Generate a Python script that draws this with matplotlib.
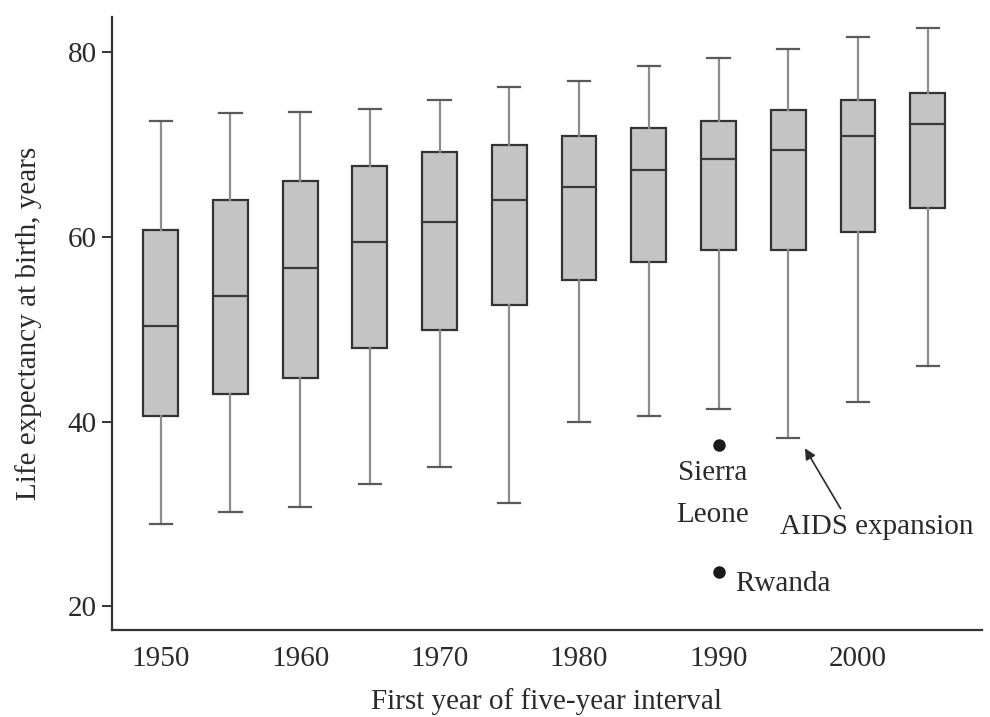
import numpy as np
import matplotlib
matplotlib.use('Agg')
from matplotlib import pyplot as plt

# five-year intervals and box statistics
years = [1950, 1955, 1960, 1965, 1970, 1975, 1980, 1985, 1990, 1995, 2000, 2005]
whislo = [28.9, 30.2, 30.8, 33.2, 35.1, 31.2, 40.0, 40.6, 41.4, 38.2, 42.1, 46.0]
q1 = [40.6, 43.0, 44.7, 48.0, 49.9, 52.6, 55.3, 57.3, 58.6, 58.6, 60.5, 63.1]
med = [50.4, 53.6, 56.6, 59.4, 61.6, 64.0, 65.4, 67.2, 68.4, 69.4, 70.9, 72.2]
q3 = [60.7, 64.0, 66.1, 67.7, 69.2, 70.0, 70.9, 71.8, 72.6, 73.7, 74.8, 75.6]
whishi = [72.6, 73.4, 73.5, 73.9, 74.8, 76.2, 76.9, 78.5, 79.4, 80.4, 81.7, 82.6]
outlier_year = 1990
outliers = {'Sierra Leone': 37.5, 'Rwanda': 23.7}

plt.rcParams['font.family'] = ['Liberation Serif', 'DejaVu Serif']
text_col = '#2a2a2a'

stats = []
for i in range(len(years)):
    stats.append({'whislo': whislo[i], 'q1': q1[i], 'med': med[i],
                  'q3': q3[i], 'whishi': whishi[i],
                  'fliers': list(outliers.values()) if years[i] == outlier_year else []})

fig = plt.figure(figsize=(9.9, 7.17), dpi=100)
ax = fig.add_axes([0.113, 0.121, 0.879, 0.855])

ax.bxp(stats, positions=years, widths=2.5, patch_artist=True,
       boxprops=dict(facecolor='#c4c4c4', edgecolor='#333333', linewidth=1.6),
       medianprops=dict(color='#3a3a3a', linewidth=1.6),
       whiskerprops=dict(color='#8c8c8c', linewidth=1.6),
       capprops=dict(color='#5a5a5a', linewidth=1.6),
       capwidths=1.6,
       flierprops=dict(marker='o', markerfacecolor='#1a1a1a', markeredgecolor='#1a1a1a',
                       markersize=8))

ax.set_xlim(1946.5, 2008.9)
ax.set_ylim(17.4, 83.8)
ax.set_xticks([1950, 1960, 1970, 1980, 1990, 2000])
ax.set_xticklabels(['1950', '1960', '1970', '1980', '1990', '2000'])
ax.set_yticks([20, 40, 60, 80])

for s in ['top', 'right']:
    ax.spines[s].set_visible(False)
for s in ['left', 'bottom']:
    ax.spines[s].set_color('#333333')
    ax.spines[s].set_linewidth(1.6)

ax.tick_params(axis='y', direction='out', length=7, width=1.4, color='#333333',
               labelsize=21, labelcolor=text_col, pad=4)
ax.tick_params(axis='x', length=0, labelsize=21, labelcolor=text_col, pad=11)

ax.set_xlabel('First year of five-year interval', fontsize=21, color=text_col, labelpad=12)
ax.set_ylabel('Life expectancy at birth, years', fontsize=21, color=text_col, labelpad=18)

ax.text(1989.6, 34.4, 'Sierra', ha='center', va='center', fontsize=21, color=text_col)
ax.text(1989.6, 29.85, 'Leone', ha='center', va='center', fontsize=21, color=text_col)
ax.text(1991.2, 22.4, 'Rwanda', ha='left', va='center', fontsize=21, color=text_col)
ax.annotate('AIDS expansion', xy=(1996.2, 37.1), xytext=(1994.4, 28.6),
            ha='left', va='center', fontsize=21, color=text_col,
            arrowprops=dict(arrowstyle='-|>', color='#2a2a2a', lw=1.2,
                            shrinkA=2, shrinkB=0, mutation_scale=16,
                            relpos=(0.33, 1.0)))

fig.savefig('out.png', dpi=100)
